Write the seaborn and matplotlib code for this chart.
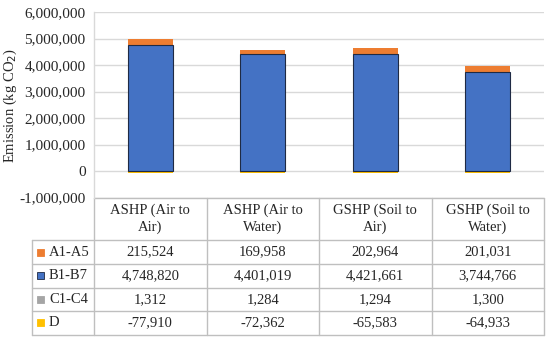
import matplotlib
matplotlib.use("Agg")
import matplotlib.pyplot as plt
import seaborn as sns
import numpy as np
import pandas as pd
from matplotlib.ticker import FuncFormatter
from matplotlib.patches import Rectangle

categories = ["ASHP (Air to\nAir)", "ASHP (Air to\nWater)", "GSHP (Soil to\nAir)", "GSHP (Soil to\nWater)"]
series_names = ["A1-A5", "B1-B7", "C1-C4", "D"]
a1_a5 = [215524, 169958, 202964, 201031]
b1_b7 = [4748820, 4401019, 4421661, 3744766]
c1_c4 = [1312, 1284, 1294, 1300]
d_vals = [-77910, -72362, -65583, -64933]
colors = {"A1-A5": "#ED7D31", "B1-B7": "#4472C4", "C1-C4": "#A5A5A5", "D": "#FFC000"}
yticks = [-1000000, 0, 1000000, 2000000, 3000000, 4000000, 5000000, 6000000]

sns.set_theme(style="white")
plt.rcParams["font.family"] = ["Liberation Serif", "DejaVu Serif"]

W, H = 550, 343
fig = plt.figure(figsize=(W / 100, H / 100), dpi=100)
px_left, px_right, px_top, px_bot = 94, 544, 12, 197.5
ax = fig.add_axes([px_left / W, 1 - px_bot / H, (px_right - px_left) / W, (px_bot - px_top) / H])

df = pd.DataFrame({"cat": categories, "A": a1_a5, "B": b1_b7, "C": c1_c4, "D": d_vals})
df["BC"] = df["B"] + df["C"]
df["ABC"] = df["BC"] + df["A"]

ax.set_axisbelow(True)
for v in yticks:
    ax.axhline(v, color="#D9D9D9", lw=1.0, zorder=0)

sns.barplot(data=df, x="cat", y="ABC", color=colors["A1-A5"], width=0.4, saturation=1, ax=ax, linewidth=0, zorder=2)
sns.barplot(data=df, x="cat", y="BC", color=colors["C1-C4"], width=0.4, saturation=1, ax=ax, linewidth=0, zorder=3)
sns.barplot(data=df, x="cat", y="B", color=colors["B1-B7"], width=0.4, saturation=1, ax=ax,
            linewidth=0.8, edgecolor="#1F2A44", zorder=4)
sns.barplot(data=df, x="cat", y="D", color=colors["D"], width=0.4, saturation=1, ax=ax, linewidth=0, zorder=3)

ax.set_xlim(-0.5, 3.5)
ax.set_ylim(-1000000, 6000000)
ax.set_yticks(yticks)
ax.yaxis.set_major_formatter(FuncFormatter(lambda v, p: f"{v:,.0f}"))
ax.tick_params(axis="y", length=0, labelsize=11, labelcolor="#262626", pad=6)
ax.set_xticks([])
ax.set_xlabel("")
ax.set_ylabel("")
for s in ["top", "right", "bottom"]:
    ax.spines[s].set_visible(False)
ax.spines["left"].set_color("#D9D9D9")
ax.spines["left"].set_linewidth(1.0)

fig.text(10 / W, 1 - 106 / H, "Emission (kg CO$_2$)", rotation=90, ha="center", va="center",
         fontsize=10.5, color="#262626")

# ---- data table below the chart ----
tr = ax.get_xaxis_transform()
col_w_px = (px_right - px_left) / 4.0
def xd(px):
    return -0.5 + (px - px_left) / col_w_px
def ya(py):
    return (px_bot - py) / (px_bot - px_top)

line_c = "#BFBFBF"
row_y = [240, 264, 287.5, 311, 334.5]
label_left = 32
ax.plot([xd(px_left), xd(px_right)], [ya(px_bot)] * 2, transform=tr, color=line_c, lw=1, clip_on=False)
for yy in row_y:
    ax.plot([xd(label_left), xd(px_right)], [ya(yy)] * 2, transform=tr, color=line_c, lw=1, clip_on=False)
for i in range(5):
    xx = px_left + i * col_w_px
    ax.plot([xd(xx)] * 2, [ya(px_bot), ya(row_y[-1])], transform=tr, color=line_c, lw=1, clip_on=False)
ax.plot([xd(label_left)] * 2, [ya(row_y[0]), ya(row_y[-1])], transform=tr, color=line_c, lw=1, clip_on=False)

for i, c in enumerate(categories):
    ax.text(i, ya((px_bot + row_y[0]) / 2), c, transform=tr, ha="center", va="center",
            fontsize=10.5, color="#262626", linespacing=1.25, clip_on=False)

rows = [a1_a5, b1_b7, c1_c4, d_vals]
for r, (name, vals) in enumerate(zip(series_names, rows)):
    yc = (row_y[r] + row_y[r + 1]) / 2
    for i, v in enumerate(vals):
        ax.text(i, ya(yc), f"{v:,}", transform=tr, ha="center", va="center",
                fontsize=10.5, color="#262626", clip_on=False)
    sq = 7
    ec = "#1F2A44" if name == "B1-B7" else colors[name]
    rect = Rectangle((xd(37), ya(yc + sq / 2)), xd(37 + sq) - xd(37), ya(yc - sq / 2) - ya(yc + sq / 2),
                     transform=tr, facecolor=colors[name], edgecolor=ec, lw=0.6, clip_on=False)
    ax.add_patch(rect)
    ax.text(xd(49), ya(yc), name, transform=tr, ha="left", va="center", fontsize=10.5,
            color="#262626", clip_on=False)

fig.savefig("out.png", dpi=100, facecolor="white")
